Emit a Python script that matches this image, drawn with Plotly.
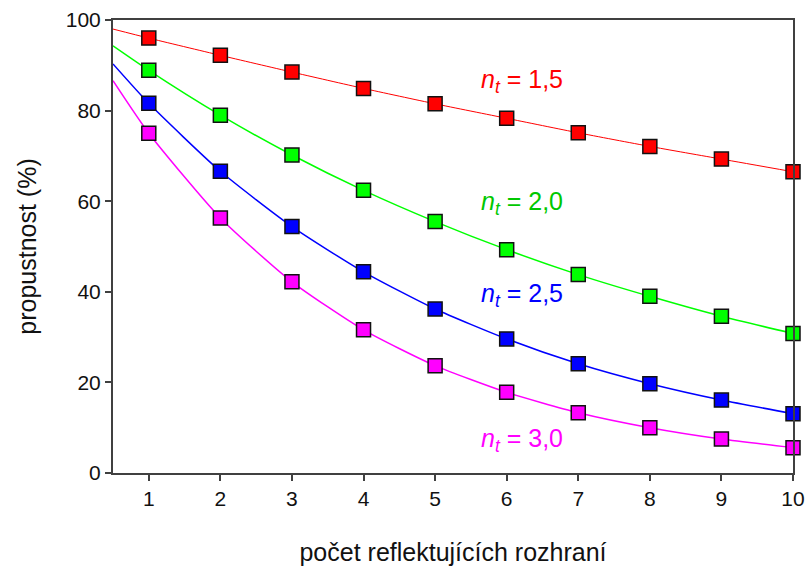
import plotly.graph_objects as go

# Data
k = [1, 2, 3, 4, 5, 6, 7, 8, 9, 10]
t15 = [96.0, 92.2, 88.5, 84.9, 81.5, 78.3, 75.1, 72.1, 69.3, 66.5]
t20 = [88.9, 79.0, 70.2, 62.4, 55.5, 49.3, 43.8, 39.0, 34.6, 30.8]
t25 = [81.6, 66.6, 54.4, 44.4, 36.2, 29.6, 24.1, 19.7, 16.1, 13.1]
t30 = [75.0, 56.3, 42.2, 31.6, 23.7, 17.8, 13.3, 10.0, 7.5, 5.6]

# curve starts at left edge of axis (x = 0.5)
x_start = 0.5
start15, start20, start25, start30 = 98.0, 94.3, 90.3, 86.6

series = [
    (t15, start15, "#FF0000", 1.0, "1,5", 86.6),
    (t20, start20, "#00FF00", 1.5, "2,0", 59.6),
    (t25, start25, "#0000FF", 1.5, "2,5", 39.3),
    (t30, start30, "#FF00FF", 1.5, "3,0", 7.2),
]
label_colors = ["#FF0000", "#00C800", "#0000FF", "#FF00FF"]

FONT = "Liberation Sans, Arial"

fig = go.Figure()
for (vals, s0, col, lw, name, ly) in series:
    fig.add_trace(go.Scatter(
        x=[x_start] + k, y=[s0] + vals, mode="lines",
        line=dict(color=col, width=lw, shape="spline", smoothing=0.6),
        showlegend=False, hoverinfo="skip", cliponaxis=False))
for (vals, s0, col, lw, name, ly) in series:
    fig.add_trace(go.Scatter(
        x=k, y=vals, mode="markers",
        marker=dict(symbol="square", size=14, color=col,
                    line=dict(color="#111111", width=1.5)),
        showlegend=False, cliponaxis=False))

for (vals, s0, col, lw, name, ly), lc in zip(series, label_colors):
    fig.add_annotation(
        x=5.62, y=ly, xref="x", yref="y", xanchor="left", yanchor="middle",
        text=f"<i>n</i><sub><i>t</i></sub> = {name}", showarrow=False,
        font=dict(family=FONT, size=25, color=lc))

axis_common = dict(
    showgrid=False, zeroline=False, showline=True, linecolor="#404040",
    linewidth=2, mirror=True, ticks="outside", ticklen=6, tickwidth=1.5,
    tickcolor="#404040",
    tickfont=dict(family=FONT, size=21, color="#111111"), automargin=False,
)
fig.update_xaxes(range=[0.5, 10], tickvals=k,
                 title=dict(text="počet reflektujících rozhraní",
                            font=dict(family=FONT, size=25, color="#111111"),
                            standoff=34),
                 **axis_common)
fig.update_yaxes(range=[0, 100], tickvals=[0, 20, 40, 60, 80, 100],
                 title=dict(text="propustnost (%)",
                            font=dict(family=FONT, size=25, color="#111111"),
                            standoff=22),
                 **axis_common)
fig.update_layout(
    width=806, height=570,
    margin=dict(l=113, r=13, t=20, b=97),
    plot_bgcolor="white", paper_bgcolor="white",
)
fig.write_html("out.html")
